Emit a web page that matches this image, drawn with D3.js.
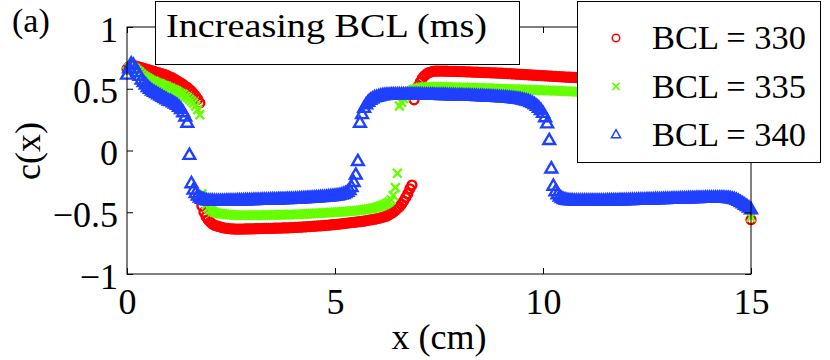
<!DOCTYPE html>
<html><head><meta charset="utf-8">
<script src="https://cdn.jsdelivr.net/npm/d3@7"></script>
<style>
body{margin:0;background:#fff}
svg{display:block}
text{font-family:"Liberation Serif","Times New Roman",serif;fill:#000}
</style>
</head><body>
<svg id="chart" width="830" height="360"></svg>
<script>
// grid spacing of the sampled spatial points (cm)
const xStep = 0.05;
// c(x) values, BCL = 330 ms (one row per cm, 20 samples per row)
const bcl330 = [
0.66,0.68,0.69,0.69,0.685,0.68,0.675,0.67,0.665,0.66,0.655,0.65,0.645,0.64,0.635,0.63,0.625,0.62,0.615,0.61,
0.60,0.595,0.585,0.575,0.565,0.555,0.545,0.535,0.52,0.51,0.495,0.48,0.46,0.44,0.415,0.385,-0.45,-0.50,-0.535,-0.56,
-0.58,-0.595,-0.605,-0.61,-0.615,-0.62,-0.625,-0.628,-0.63,-0.632,-0.634,-0.635,-0.636,-0.636,-0.636,-0.636,-0.636,-0.635,-0.635,-0.635,
-0.634,-0.634,-0.633,-0.633,-0.632,-0.632,-0.631,-0.631,-0.63,-0.63,-0.63,-0.629,-0.629,-0.628,-0.628,-0.627,-0.627,-0.626,-0.626,-0.625,
-0.624,-0.623,-0.622,-0.621,-0.62,-0.619,-0.618,-0.617,-0.616,-0.615,-0.613,-0.612,-0.611,-0.61,-0.609,-0.607,-0.606,-0.605,-0.603,-0.601,
-0.60,-0.598,-0.596,-0.594,-0.592,-0.59,-0.588,-0.586,-0.584,-0.582,-0.58,-0.578,-0.576,-0.574,-0.571,-0.568,-0.565,-0.562,-0.559,-0.556,
-0.553,-0.549,-0.545,-0.54,-0.535,-0.53,-0.52,-0.51,-0.50,-0.485,-0.47,-0.455,-0.435,-0.41,-0.38,-0.35,-0.31,-0.28,0.41,0.47,
0.52,0.555,0.585,0.605,0.62,0.63,0.635,0.64,0.642,0.643,0.643,0.643,0.643,0.642,0.642,0.641,0.641,0.64,0.64,0.639,
0.639,0.638,0.638,0.637,0.637,0.636,0.635,0.635,0.634,0.633,0.633,0.632,0.631,0.631,0.63,0.629,0.629,0.628,0.627,0.627,
0.626,0.625,0.624,0.623,0.622,0.621,0.62,0.619,0.618,0.617,0.616,0.615,0.614,0.613,0.612,0.611,0.61,0.609,0.608,0.607,
0.606,0.605,0.604,0.603,0.602,0.601,0.60,0.599,0.598,0.597,0.596,0.595,0.594,0.593,0.592,0.591,0.59,0.589,0.588,0.587,
0.586,0.585,0.584,0.583,0.582,0.581,0.58,0.579,0.578,0.577,0.576,0.575,0.574,0.573,0.572,0.571,0.57,0.569,0.568,0.567,
0.566,0.565,0.564,0.563,0.562,0.561,0.56,0.559,0.558,0.557,0.556,0.555,0.554,0.553,0.552,0.551,0.55,0.549,0.548,0.547,
0.545,0.544,0.543,0.541,0.54,0.539,0.537,0.536,0.535,0.533,0.532,0.53,0.529,0.527,0.526,0.524,0.523,0.521,0.52,0.519,
0.518,0.516,0.514,0.512,0.51,0.507,0.504,0.501,0.498,0.494,0.49,0.485,0.479,0.472,0.463,0.45,0.43,0.40,0.36,0.30,
-0.56];
// c(x) values, BCL = 335 ms
const bcl335 = [
0.64,0.67,0.68,0.675,0.665,0.65,0.635,0.62,0.605,0.595,0.585,0.575,0.565,0.56,0.55,0.545,0.54,0.53,0.525,0.52,
0.51,0.505,0.495,0.49,0.48,0.47,0.46,0.455,0.44,0.43,0.415,0.40,0.385,0.36,0.33,0.29,-0.35,-0.40,-0.44,-0.465,
-0.48,-0.49,-0.50,-0.505,-0.51,-0.512,-0.514,-0.516,-0.518,-0.52,-0.521,-0.522,-0.523,-0.524,-0.524,-0.525,-0.525,-0.525,-0.525,-0.525,
-0.525,-0.525,-0.525,-0.525,-0.524,-0.524,-0.524,-0.523,-0.523,-0.523,-0.522,-0.522,-0.522,-0.521,-0.521,-0.52,-0.52,-0.52,-0.519,-0.519,
-0.518,-0.518,-0.517,-0.516,-0.516,-0.515,-0.514,-0.513,-0.512,-0.511,-0.51,-0.509,-0.508,-0.507,-0.506,-0.505,-0.504,-0.503,-0.502,-0.501,
-0.50,-0.499,-0.498,-0.497,-0.496,-0.494,-0.493,-0.492,-0.49,-0.489,-0.487,-0.485,-0.483,-0.481,-0.479,-0.477,-0.474,-0.471,-0.468,-0.465,
-0.46,-0.455,-0.45,-0.444,-0.437,-0.428,-0.417,-0.40,-0.365,-0.30,-0.185,0.36,0.39,0.42,0.44,0.46,0.475,0.485,0.495,0.50,
0.505,0.51,0.512,0.514,0.515,0.516,0.516,0.516,0.516,0.516,0.515,0.515,0.515,0.514,0.514,0.513,0.513,0.512,0.512,0.511,
0.511,0.51,0.51,0.509,0.509,0.508,0.508,0.507,0.507,0.506,0.506,0.505,0.505,0.504,0.504,0.503,0.503,0.502,0.502,0.501,
0.50,0.50,0.499,0.499,0.498,0.497,0.497,0.496,0.495,0.495,0.494,0.493,0.493,0.492,0.491,0.491,0.49,0.489,0.489,0.488,
0.487,0.487,0.486,0.485,0.485,0.484,0.483,0.483,0.482,0.481,0.48,0.48,0.479,0.478,0.477,0.477,0.476,0.475,0.474,0.474,
0.473,0.472,0.471,0.471,0.47,0.469,0.468,0.467,0.467,0.466,0.465,0.464,0.463,0.463,0.462,0.461,0.46,0.46,0.459,0.459,
0.458,0.457,0.456,0.455,0.454,0.453,0.452,0.451,0.45,0.449,0.448,0.447,0.446,0.445,0.444,0.443,0.442,0.441,0.44,0.439,
0.438,0.437,0.436,0.435,0.434,0.433,0.432,0.431,0.43,0.429,0.428,0.427,0.426,0.425,0.424,0.423,0.422,0.421,0.42,0.418,
0.416,0.414,0.412,0.41,0.407,0.404,0.401,0.398,0.394,0.39,0.386,0.381,0.375,0.368,0.36,0.35,0.335,0.315,0.29,0.25,
-0.54];
// c(x) values, BCL = 340 ms
const bcl340 = [
0.61,0.66,0.70,0.69,0.66,0.63,0.60,0.57,0.55,0.53,0.51,0.495,0.48,0.47,0.46,0.45,0.44,0.43,0.42,0.41,
0.40,0.395,0.385,0.375,0.365,0.35,0.33,0.305,0.27,0.22,-0.04,-0.27,-0.32,-0.35,-0.37,-0.385,-0.395,-0.40,-0.405,-0.41,
-0.41,-0.41,-0.412,-0.412,-0.412,-0.412,-0.412,-0.412,-0.411,-0.411,-0.41,-0.41,-0.41,-0.409,-0.409,-0.408,-0.408,-0.407,-0.407,-0.406,
-0.406,-0.405,-0.405,-0.404,-0.404,-0.403,-0.403,-0.402,-0.402,-0.401,-0.401,-0.40,-0.40,-0.399,-0.399,-0.398,-0.398,-0.397,-0.397,-0.396,
-0.396,-0.395,-0.394,-0.393,-0.392,-0.391,-0.39,-0.389,-0.388,-0.387,-0.386,-0.385,-0.384,-0.382,-0.381,-0.38,-0.378,-0.377,-0.375,-0.373,
-0.371,-0.369,-0.366,-0.362,-0.357,-0.35,-0.34,-0.325,-0.30,-0.26,-0.20,-0.09,0.22,0.29,0.34,0.37,0.39,0.405,0.415,0.425,
0.43,0.435,0.44,0.443,0.445,0.447,0.448,0.449,0.45,0.45,0.45,0.45,0.45,0.45,0.45,0.45,0.45,0.45,0.449,0.449,
0.449,0.449,0.448,0.448,0.448,0.447,0.447,0.447,0.446,0.446,0.446,0.445,0.445,0.445,0.444,0.444,0.443,0.443,0.442,0.442,
0.441,0.441,0.44,0.44,0.439,0.439,0.438,0.438,0.437,0.436,0.436,0.435,0.434,0.433,0.433,0.432,0.431,0.43,0.429,0.428,
0.427,0.426,0.425,0.423,0.422,0.42,0.418,0.416,0.414,0.411,0.408,0.404,0.40,0.395,0.388,0.38,0.37,0.357,0.342,0.323,
0.30,0.265,0.215,0.08,-0.15,-0.29,-0.335,-0.36,-0.378,-0.39,-0.398,-0.403,-0.406,-0.408,-0.409,-0.41,-0.41,-0.41,-0.41,-0.41,
-0.41,-0.41,-0.41,-0.41,-0.41,-0.41,-0.41,-0.41,-0.41,-0.41,-0.41,-0.409,-0.409,-0.409,-0.408,-0.408,-0.408,-0.407,-0.407,-0.407,
-0.406,-0.406,-0.405,-0.405,-0.404,-0.404,-0.403,-0.403,-0.402,-0.402,-0.401,-0.401,-0.40,-0.40,-0.399,-0.399,-0.398,-0.398,-0.397,-0.397,
-0.396,-0.396,-0.395,-0.395,-0.394,-0.394,-0.393,-0.393,-0.392,-0.392,-0.391,-0.391,-0.39,-0.39,-0.389,-0.389,-0.388,-0.388,-0.387,-0.387,
-0.386,-0.386,-0.386,-0.386,-0.386,-0.386,-0.387,-0.387,-0.388,-0.389,-0.391,-0.394,-0.398,-0.404,-0.412,-0.422,-0.433,-0.444,-0.455,-0.467,
-0.48];

const seriesLabels = ["BCL = 330", "BCL = 335", "BCL = 340"];
const xTicks = [0, 5, 10, 15];
const yTicks = [-1, -0.5, 0, 0.5, 1];
const titleText = "Increasing BCL (ms)";

const colors = ["#ff0000", "#66ff00", "#2040ff"];
const symbols = [d3.symbolCircle, d3.symbolTimes, d3.symbolTriangle2];
const dataSizes = [62, 52, 100];
const legendSizes = [44, 36, 60];

const svg = d3.select("#chart");
const W = 830, H = 360;
const m = {left: 127, right: 751, top: 27, bottom: 274};
const x = d3.scaleLinear().domain([0, 15]).range([m.left, m.right]);
const y = d3.scaleLinear().domain([-1, 1]).range([m.bottom, m.top]);
const fmt = d => (d < 0 ? "\u2212" : "") + Math.abs(d);
const FS = 36;

svg.append("rect").attr("width", W).attr("height", H).attr("fill", "#fff");

// data markers (drawn in order: 330, 335, 340)
const allSeries = [bcl330, bcl335, bcl340];
allSeries.forEach((vals, si) => {
  const pts = vals.map((v, i) => ({x: +(i * xStep).toFixed(3), y: v}));
  const sym = d3.symbol().type(symbols[si]).size(dataSizes[si]);
  svg.append("g")
    .selectAll("path").data(pts).join("path")
    .attr("d", sym)
    .attr("transform", d => `translate(${x(d.x)},${y(d.y)})`)
    .attr("fill", "none")
    .attr("stroke", colors[si])
    .attr("stroke-width", 2.4);
});

// axes box
svg.append("rect")
  .attr("x", m.left).attr("y", m.top)
  .attr("width", m.right - m.left).attr("height", m.bottom - m.top)
  .attr("fill", "none").attr("stroke", "#000").attr("stroke-width", 1);

// bottom axis
const xb = svg.append("g").attr("transform", `translate(0,${m.bottom})`)
  .call(d3.axisBottom(x).tickValues(xTicks).tickFormat(fmt).tickSizeInner(-6).tickSizeOuter(0));
xb.select(".domain").remove();
xb.selectAll("line").attr("stroke", "#000");
xb.selectAll("text").attr("y", 40).attr("dy", null).attr("font-size", FS)
  .attr("font-family", "Liberation Serif").attr("fill", "#000");
// top axis ticks
const xt = svg.append("g").attr("transform", `translate(0,${m.top})`)
  .call(d3.axisTop(x).tickValues(xTicks).tickFormat("").tickSizeInner(-6).tickSizeOuter(0));
xt.select(".domain").remove();
xt.selectAll("line").attr("stroke", "#000");

// left axis
const yl = svg.append("g").attr("transform", `translate(${m.left},0)`)
  .call(d3.axisLeft(y).tickValues(yTicks).tickFormat(fmt).tickSizeInner(-6).tickSizeOuter(0));
yl.select(".domain").remove();
yl.selectAll("line").attr("stroke", "#000");
yl.selectAll("text").attr("x", -9).attr("dy", null).attr("y", 14).attr("font-size", FS)
  .attr("font-family", "Liberation Serif").attr("fill", "#000");
// right axis ticks
const yr = svg.append("g").attr("transform", `translate(${m.right},0)`)
  .call(d3.axisRight(y).tickValues(yTicks).tickFormat("").tickSizeInner(-6).tickSizeOuter(0));
yr.select(".domain").remove();
yr.selectAll("line").attr("stroke", "#000");

// axis labels
svg.append("text").attr("x", (m.left + m.right) / 2).attr("y", 349)
  .attr("text-anchor", "middle").attr("font-size", FS).text("x (cm)");
svg.append("text").attr("transform", `translate(40,151) rotate(-90)`)
  .attr("text-anchor", "middle").attr("font-size", FS).text("c(x)");
svg.append("text").attr("x", 12).attr("y", 32).attr("font-size", 34).text("(a)");

// title annotation box
svg.append("rect").attr("x", 155.5).attr("y", 1.5).attr("width", 364).attr("height", 63)
  .attr("fill", "#fff").attr("stroke", "#000").attr("stroke-width", 1);
svg.append("text").attr("x", 166).attr("y", 37).attr("font-size", 34)
  .attr("textLength", 321).attr("lengthAdjust", "spacingAndGlyphs").text(titleText);

// legend
const lg = svg.append("g");
lg.append("rect").attr("x", 577.5).attr("y", 1.5).attr("width", 243).attr("height", 161)
  .attr("fill", "#fff").attr("stroke", "#000").attr("stroke-width", 1);
const legY = d3.scalePoint().domain(seriesLabels).range([38, 135]);
seriesLabels.forEach((lab, si) => {
  lg.append("path")
    .attr("d", d3.symbol().type(symbols[si]).size(legendSizes[si]))
    .attr("transform", `translate(616,${legY(lab)})`)
    .attr("fill", "none").attr("stroke", colors[si]).attr("stroke-width", 1.5);
  lg.append("text").attr("x", 652).attr("y", legY(lab) + 11).attr("font-size", 34)
    .attr("textLength", 154).attr("lengthAdjust", "spacingAndGlyphs").text(lab);
});
</script>
</body></html>
